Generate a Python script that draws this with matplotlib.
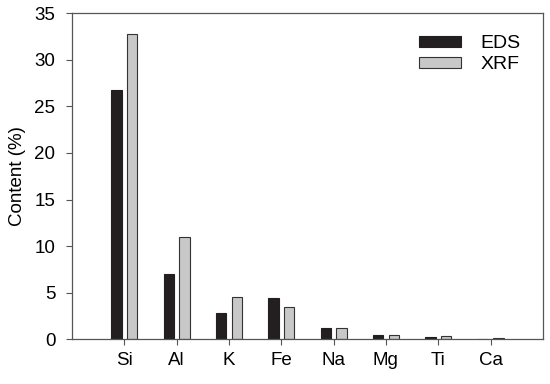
import matplotlib.pyplot as plt
import numpy as np

elements = ["Si", "Al", "K", "Fe", "Na", "Mg", "Ti", "Ca"]
eds = [26.7, 7.05, 2.85, 4.4, 1.2, 0.45, 0.25, 0.0]
xrf = [32.8, 10.95, 4.6, 3.5, 1.2, 0.45, 0.4, 0.2]

plt.rcParams['font.family'] = ['Liberation Sans', 'DejaVu Sans']
plt.rcParams['font.size'] = 13.5

fig = plt.figure(figsize=(5.5, 3.84), dpi=100)
ax = fig.add_axes([0.131, 0.116, 0.856, 0.85])

x = np.arange(len(elements))
w = 0.2
ax.bar(x - 0.15, eds, w, color="#231f20", edgecolor="#231f20", linewidth=0.8, label="EDS")
ax.bar(x + 0.15, xrf, w, color="#c8c8c8", edgecolor="#333333", linewidth=0.8, label="XRF")

ax.set_xlim(-1, 8)
ax.set_ylim(0, 35)
ax.set_xticks(x)
ax.set_xticklabels(elements)
ax.set_yticks(np.arange(0, 36, 5))
ax.set_ylabel("Content (%)", labelpad=6)
ax.tick_params(direction='out', length=4, color="#555555", width=0.8, pad=5)
ax.tick_params(axis='y', pad=8)
for s in ax.spines.values():
    s.set_color("#555555")
    s.set_linewidth(0.9)

leg = ax.legend(loc='upper right', bbox_to_anchor=(0.99, 0.985), frameon=False,
                handlelength=2.15, handleheight=0.5, handletextpad=1.0,
                labelspacing=0.2, fontsize=14)

fig.savefig("out.png", dpi=100)
